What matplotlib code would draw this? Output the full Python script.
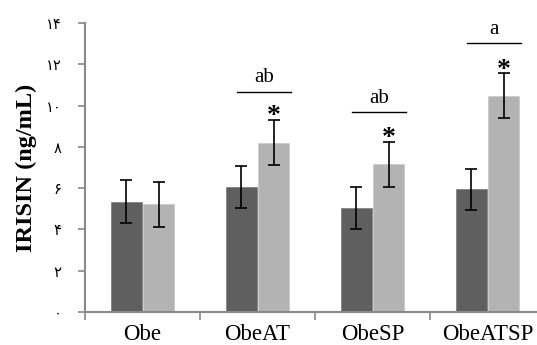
import matplotlib
matplotlib.use('agg')
import matplotlib.pyplot as plt
import numpy as np

groups = ['Obe', 'ObeAT', 'ObeSP', 'ObeATSP']
dark_vals = [5.35, 6.04, 5.03, 5.94]
dark_err = [1.03, 1.02, 1.01, 1.01]
light_vals = [5.23, 8.21, 7.15, 10.48]
light_err = [1.09, 1.10, 1.09, 1.08]
ytick_vals = [0, 2, 4, 6, 8, 10, 12, 14]
ytick_labels = ['۰', '۲', '۴', '۶', '۸', '۱۰', '۱۲', '۱۴']
star_groups = [1, 2, 3]
bracket_labels = {1: ('ab', 10.67), 2: ('ab', 9.67), 3: ('a', 13.02)}

serif = ['Liberation Serif', 'DejaVu Sans']
plt.rcParams['font.family'] = serif

fig = plt.figure(figsize=(5.37, 3.45), dpi=100)
ax = fig.add_axes([85 / 537, 33 / 345, 460 / 537, 289 / 345])

x = np.arange(len(groups)) + 0.5
w = 0.27
ekw = dict(ecolor='black', elinewidth=1.2, capsize=4.5, capthick=1.2)
ax.bar(x - 0.14, dark_vals, w, color='#5f5f5f', edgecolor='#7a7a7a', linewidth=0.5,
       yerr=dark_err, error_kw=ekw, zorder=2)
ax.bar(x + 0.14, light_vals, w, color='#b3b3b3', edgecolor='#c8c8c8', linewidth=0.5,
       yerr=light_err, error_kw=ekw, zorder=2)

# significance stars above the light bars
for i in star_groups:
    top = light_vals[i] + light_err[i]
    ax.annotate('*', xy=(x[i] + 0.14, top), xytext=(0, -2.5), textcoords='offset points',
                ha='center', va='baseline', fontsize=20, fontweight='bold',
                family=serif)

# bracket lines with letters
for i, (lab, yl) in bracket_labels.items():
    ax.plot([x[i] - 0.18, x[i] + 0.29], [yl, yl], color='black', lw=1.0)
    ax.text(x[i] + 0.055, yl + 0.47, lab, ha='center', va='baseline', fontsize=15)

ax.set_xlim(0, 4)
ax.set_ylim(0, 14)
ax.set_xticks([0, 1, 2, 3, 4])
ax.set_xticklabels([])
ax.set_xticks(x, minor=True)
ax.set_xticklabels(groups, minor=True, fontsize=16.5)
ax.tick_params(axis='x', which='minor', length=0, pad=9)
ax.tick_params(axis='x', which='major', length=6, color='#898989', width=1.2)
ax.set_yticks(ytick_vals)
ax.set_yticklabels(ytick_labels, fontsize=10.5, family=['DejaVu Sans'])
ax.tick_params(axis='y', length=5, color='#898989', width=1.2, pad=12)

for s in ['top', 'right']:
    ax.spines[s].set_visible(False)
for s in ['left', 'bottom']:
    ax.spines[s].set_color('#898989')
    ax.spines[s].set_linewidth(1.5)
ax.spines['bottom'].set_clip_on(False)

ax.set_ylabel('IRISIN (ng/mL)', fontsize=17.5, fontweight='bold', labelpad=6)

fig.savefig('out.png', dpi=100)
